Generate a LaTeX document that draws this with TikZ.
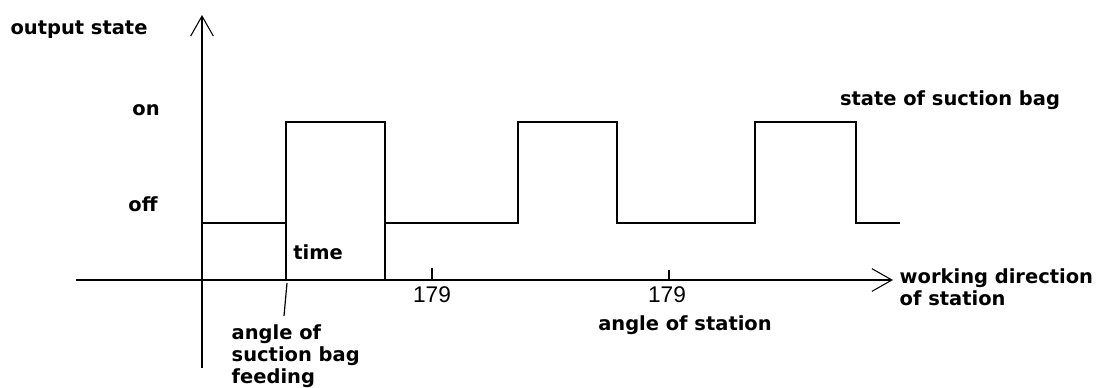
\documentclass[tikz,border=0pt]{standalone}
\usepackage{fontspec}
\setmainfont{DejaVu Sans}
\newfontfamily\numfont{Liberation Sans}
\usetikzlibrary{arrows.meta}
\tikzset{
  lbl/.style={font=\fontsize{14.6}{16.5}\selectfont\bfseries},
  num/.style={font=\numfont\fontsize{17}{19}\selectfont},
  axis/.style={line width=1.3pt,-{Straight Barb[length=15pt,width=17pt,line width=0.8pt]}},
  sig/.style={line width=1.3pt}
}
\begin{document}
\begin{tikzpicture}[x=0.75pt,y=-0.75pt]
\useasboundingbox (0,0) rectangle (1108,387);

% axes
\coordinate (ybot) at (202,368);
\coordinate (ytop) at (202,15);
\coordinate (xleft) at (76,280);
\coordinate (xright) at (893,280);
\draw[axis] (ybot) -- (ytop);
\draw[axis] (xleft) -- (xright);

% output signal
\draw[sig] (202,223) -- (286,223);
\draw[sig] (286,280) -- (286,122) -- (385,122) -- (385,280);
\draw[sig] (385,223) -- (518,223) -- (518,122) -- (617,122) -- (617,223)
  -- (755,223) -- (755,122) -- (856,122) -- (856,223) -- (900,223);

% ticks
\draw[sig] (432,268) -- (432,280);
\draw[sig] (669,270) -- (669,280);
\draw[line width=0.9pt] (287,283) -- (284,316);

% labels
\node[lbl] (outstate) at (79,30) {output state};
\node[lbl] (on) at (146,110) {on};
\node[lbl] (off) at (143,204) {off};
\node[lbl] (time) at (318,252) {time};
\node[num] (tick1) at (432,295) {179};
\node[num] (tick2) at (667,295) {179};
\node[lbl] (station) at (685,325) {angle of station};
\node[lbl,anchor=west,align=left] (direction) at (895,287) {working direction\\of station};
\node[lbl,anchor=north west,align=left] (feeding) at (227,320) {angle of\\suction bag\\feeding};
\node[lbl] (bagstate) at (950,100) {state of suction bag};
\end{tikzpicture}
\end{document}
